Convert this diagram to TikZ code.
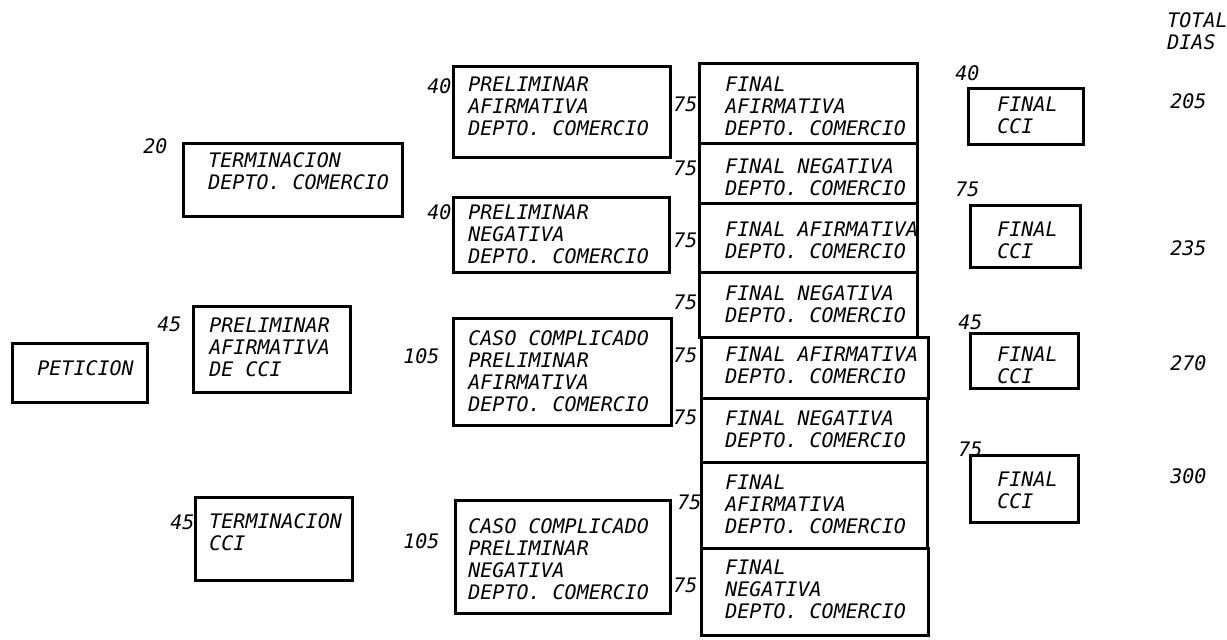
\documentclass[tikz,border=0pt]{standalone}
\usepackage{fontspec}
\setmonofont{DejaVu Sans Mono}
\usetikzlibrary{fit}
\begin{document}
\begin{tikzpicture}[x=0.5pt,y=-0.5pt,
  box/.style={draw, line width=1.5pt, inner sep=0pt},
  txt/.style={anchor=north west, inner sep=0pt, align=left,
    font=\ttfamily\itshape\fontsize{10}{11}\selectfont},
  num/.style={txt}]
\useasboundingbox[fill=white] (0,0) rectangle (1227,639);
% boxes
\coordinate (a1) at (12,343);  \coordinate (a2) at (147,402);
\node[box, fit=(a1)(a2)] (pet) {};
\coordinate (b1) at (183,143); \coordinate (b2) at (402,216);
\node[box, fit=(b1)(b2)] (tdc) {};
\coordinate (c1) at (193,306); \coordinate (c2) at (350,392);
\node[box, fit=(c1)(c2)] (pac) {};
\coordinate (d1) at (195,497); \coordinate (d2) at (352,580);
\node[box, fit=(d1)(d2)] (tcc) {};
\coordinate (e1) at (453,66);  \coordinate (e2) at (670,157);
\node[box, fit=(e1)(e2)] (pad) {};
\coordinate (g1) at (453,197); \coordinate (g2) at (669,272);
\node[box, fit=(g1)(g2)] (pnd) {};
\coordinate (h1) at (453,318); \coordinate (h2) at (671,425);
\node[box, fit=(h1)(h2)] (cca) {};
\coordinate (i1) at (455,500); \coordinate (i2) at (670,613);
\node[box, fit=(i1)(i2)] (ccn) {};
% final column
\coordinate (f1a) at (699,63);  \coordinate (f1b) at (917,143);
\node[box, fit=(f1a)(f1b)] (f1) {};
\coordinate (f2a) at (699,143); \coordinate (f2b) at (917,203);
\node[box, fit=(f2a)(f2b)] (f2) {};
\coordinate (f3a) at (699,203); \coordinate (f3b) at (917,272);
\node[box, fit=(f3a)(f3b)] (f3) {};
\coordinate (f4a) at (699,272); \coordinate (f4b) at (917,337);
\node[box, fit=(f4a)(f4b)] (f4) {};
\coordinate (f5a) at (701,337); \coordinate (f5b) at (928,398);
\node[box, fit=(f5a)(f5b)] (f5) {};
\coordinate (f6a) at (701,398); \coordinate (f6b) at (927,462);
\node[box, fit=(f6a)(f6b)] (f6) {};
\coordinate (f7a) at (701,462); \coordinate (f7b) at (927,548);
\node[box, fit=(f7a)(f7b)] (f7) {};
\coordinate (f8a) at (701,548); \coordinate (f8b) at (928,635);
\node[box, fit=(f8a)(f8b)] (f8) {};
% CCI column
\coordinate (k1a) at (968,88);  \coordinate (k1b) at (1083,144);
\node[box, fit=(k1a)(k1b)] (k1) {};
\coordinate (k2a) at (970,205); \coordinate (k2b) at (1080,267);
\node[box, fit=(k2a)(k2b)] (k2) {};
\coordinate (k3a) at (970,333); \coordinate (k3b) at (1078,388);
\node[box, fit=(k3a)(k3b)] (k3) {};
\coordinate (k4a) at (970,455); \coordinate (k4b) at (1078,522);
\node[box, fit=(k4a)(k4b)] (k4) {};
% texts
\node[txt] (tpet) at (37,360) {PETICION};
\node[txt] (ttdc) at (208,152) {TERMINACION\\DEPTO. COMERCIO};
\node[txt] (tpac) at (209,318) {PRELIMINAR\\AFIRMATIVA\\DE CCI};
\node[txt] (ttcc) at (209,513) {TERMINACION\\CCI};
\node[txt] (tpad) at (468,77) {PRELIMINAR\\AFIRMATIVA\\DEPTO. COMERCIO};
\node[txt] (tpnd) at (468,205) {PRELIMINAR\\NEGATIVA\\DEPTO. COMERCIO};
\node[txt] (tcca) at (468,330) {CASO COMPLICADO\\PRELIMINAR\\AFIRMATIVA\\DEPTO. COMERCIO};
\node[txt] (tccn) at (468,518) {CASO COMPLICADO\\PRELIMINAR\\NEGATIVA\\DEPTO. COMERCIO};
\node[txt] (tf1) at (725,77) {FINAL\\AFIRMATIVA\\DEPTO. COMERCIO};
\node[txt] (tf2) at (725,158) {FINAL NEGATIVA\\DEPTO. COMERCIO};
\node[txt] (tf3) at (725,222) {FINAL AFIRMATIVA\\DEPTO. COMERCIO};
\node[txt] (tf4) at (725,285) {FINAL NEGATIVA\\DEPTO. COMERCIO};
\node[txt] (tf5) at (725,347) {FINAL AFIRMATIVA\\DEPTO. COMERCIO};
\node[txt] (tf6) at (725,410) {FINAL NEGATIVA\\DEPTO. COMERCIO};
\node[txt] (tf7) at (725,475) {FINAL\\AFIRMATIVA\\DEPTO. COMERCIO};
\node[txt] (tf8) at (725,560) {FINAL\\NEGATIVA\\DEPTO. COMERCIO};
\node[txt] (tk1) at (997,97) {FINAL\\CCI};
\node[txt] (tk2) at (997,222) {FINAL\\CCI};
\node[txt] (tk3) at (997,347) {FINAL\\CCI};
\node[txt] (tk4) at (997,472) {FINAL\\CCI};
\node[txt] (ttot) at (1167,12) {TOTAL\\DIAS};
% numbers
\node[num] (n20) at (143,138) {20};
\node[num] (n45a) at (157,317) {45};
\node[num] (n45b) at (170,515) {45};
\node[num] (n40a) at (427,78) {40};
\node[num] (n40b) at (427,204) {40};
\node[num] (n105a) at (403,348) {105};
\node[num] (n105b) at (403,533) {105};
\node[num] (m1) at (673,97) {75};
\node[num] (m2) at (673,161) {75};
\node[num] (m3) at (673,233) {75};
\node[num] (m4) at (673,295) {75};
\node[num] (m5) at (673,348) {75};
\node[num] (m6) at (673,410) {75};
\node[num] (m7) at (677,495) {75};
\node[num] (m8) at (673,578) {75};
\node[num] (q1) at (955,65) {40};
\node[num] (q2) at (955,182) {75};
\node[num] (q3) at (958,315) {45};
\node[num] (q4) at (958,442) {75};
\node[num] (s1) at (1170,93) {205};
\node[num] (s2) at (1170,240) {235};
\node[num] (s3) at (1170,355) {270};
\node[num] (s4) at (1170,468) {300};
\end{tikzpicture}
\end{document}
